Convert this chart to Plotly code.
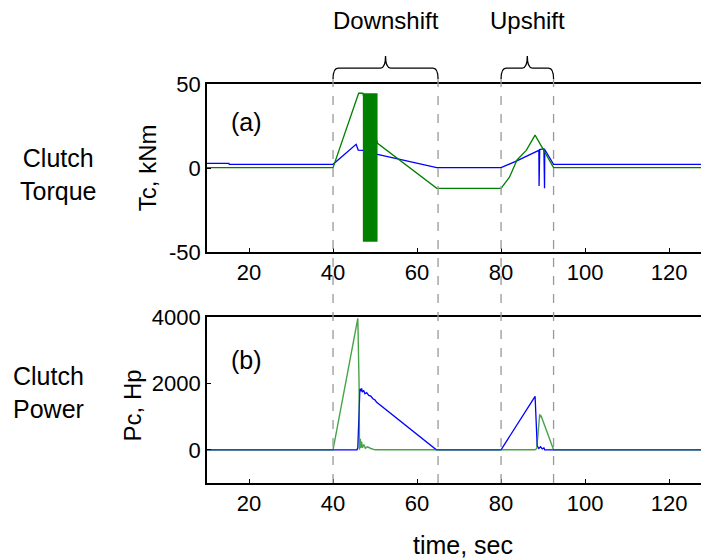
"""Clutch torque / clutch power during a downshift and an upshift."""

import plotly.graph_objects as go
from plotly.subplots import make_subplots

# --- shift windows (sec) ---
shift_names = ["Downshift", "Upshift"]
shift_start = [40, 80]
shift_end = [65, 92.5]

# --- (a) clutch torque, kNm ---
tc_blue_t = [10, 15.2, 15.3, 40, 45.5, 46.0, 47.1, 50.6, 64.7, 80, 84, 89.0,
             89.05, 89.1, 89.15, 89.2, 90.2, 90.25, 90.3, 90.35, 90.4, 92.5, 130]
tc_blue = [2.8, 2.8, 2.2, 2.2, 14.1, 10.7, 10.5, 8.1, 0.2, 0.2, 4.5, 10.5,
           -10.7, 11.0, -10.7, 11.0, 11.5, -12.1, 11.5, -12.1, 11.0, 2.2, 2.2]

tc_green_t = [10, 40, 46.1, 47.1, 50.6, 64.7, 80, 82, 83.8, 86, 88.1, 92.5, 130]
tc_green = [0.2, 0.2, 44.5, 44.5, 14.7, -12.1, -12.1, -5.5, 4.8, 10.5, 19.6, 0.2, 0.2]

# dense oscillation band of the green torque signal
osc_t = [47.1, 50.6]
osc_lo = -43.9
osc_hi = 44.5

# --- (b) clutch power, Hp ---
pc_blue_t = [10, 45.7, 45.9, 46.4, 46.6, 46.8, 47.0, 47.3, 47.6, 48.0, 48.5, 49.0,
             49.5, 50.0, 50.4, 64.6, 80, 88.1, 88.6, 89.0, 89.4, 89.8, 90.2, 90.4, 130]
pc_blue = [0, 0, 60, 1840, 1760, 1850, 1740, 1790, 1690, 1720, 1640, 1620,
           1540, 1500, 1430, 0, 0, 1610, 120, 40, 90, 30, 60, 0, 0]

pc_green_t = [10, 40, 45.9, 46.2, 46.3, 46.5, 46.6, 46.8, 47.0, 47.3, 47.7, 48.2,
              49.0, 50.0, 88.1, 88.5, 89.2, 89.4, 89.5, 92.5, 130]
pc_green = [0, 0, 3960, 2000, 0, 330, 60, 250, 60, 160, 50, 90,
            40, 0, 0, 40, 1070, 980, 1030, 0, 0]

BLUE = "#0000ff"
GREEN = "#008000"
FONT = "Liberation Sans, Arial, sans-serif"

fig = make_subplots(rows=2, cols=1)

fig.add_trace(go.Scatter(x=tc_blue_t, y=tc_blue, mode="lines",
                         line=dict(color=BLUE, width=1.3)), row=1, col=1)
fig.add_trace(go.Scatter(x=tc_green_t, y=tc_green, mode="lines",
                         line=dict(color=GREEN, width=1.3)), row=1, col=1)
fig.add_trace(go.Scatter(
    x=[osc_t[0], osc_t[1], osc_t[1], osc_t[0], osc_t[0]],
    y=[osc_lo, osc_lo, osc_hi, osc_hi, osc_lo],
    mode="lines", fill="toself", fillcolor=GREEN,
    line=dict(color=GREEN, width=0)), row=1, col=1)

fig.add_trace(go.Scatter(x=pc_blue_t, y=pc_blue, mode="lines",
                         line=dict(color=BLUE, width=1.3)), row=2, col=1)
fig.add_trace(go.Scatter(x=pc_green_t, y=pc_green, mode="lines",
                         line=dict(color="rgba(0,128,0,0.72)", width=1.4)), row=2, col=1)

# --- dashed shift markers and braces ---
y_end, y_mid, y_tip = 1.0125, 1.040, 1.070
r = 1.2
for name, a, b in zip(shift_names, shift_start, shift_end):
    for xv in (a, b):
        fig.add_shape(type="line", xref="x", yref="paper", x0=xv, x1=xv, y0=0, y1=y_end,
                      line=dict(color="#999999", width=1.3, dash="dash"))
    m = (a + b) / 2
    path = (f"M {a},{y_end} Q {a},{y_mid} {a + r},{y_mid} L {m - r},{y_mid} "
            f"Q {m},{y_mid} {m},{y_tip} Q {m},{y_mid} {m + r},{y_mid} "
            f"L {b - r},{y_mid} Q {b},{y_mid} {b},{y_end}")
    fig.add_shape(type="path", xref="x", yref="paper", path=path,
                  line=dict(color="black", width=1.3))
    fig.add_annotation(text=name, x=m, y=1.160, xref="x", yref="paper",
                       showarrow=False, font=dict(size=24), xanchor="center", yanchor="middle")

labels = [
    ("Clutch<br>Torque", -0.297, 0.774, 0, 25),
    ("Clutch<br>Power", -0.315, 0.226, 0, 25),
    ("Tc, kNm", -0.1195, 0.789, -90, 24),
    ("Pc, Hp", -0.149, 0.195, -90, 24),
    ("time, sec", 0.51, -0.155, 0, 25),
    ("(a)", 0.078, 0.905, 0, 25),
    ("(b)", 0.078, 0.308, 0, 25),
]
for txt, x, y, ang, size in labels:
    fig.add_annotation(text=txt, x=x, y=y, xref="paper", yref="paper", showarrow=False,
                       textangle=ang, font=dict(size=size), xanchor="center", yanchor="middle")

axis_style = dict(showline=True, linecolor="black", linewidth=1.6, ticks="inside",
                  ticklen=4, tickwidth=1, tickcolor="black", showgrid=False,
                  zeroline=False, automargin=False, tickfont=dict(size=22, color="black"))

fig.update_xaxes(range=[10, 129.5], tickvals=[20, 40, 60, 80, 100, 120],
                 mirror=True, **axis_style)
fig.update_yaxes(mirror=False, **axis_style)

# page body adds an 8px offset, so the figure is 8px smaller than the window
fig.update_layout(
    width=701, height=552,
    margin=dict(l=199, r=0, t=76, b=77),
    plot_bgcolor="white", paper_bgcolor="white",
    showlegend=False,
    font=dict(family=FONT, color="black"),
    xaxis=dict(domain=[0, 1], anchor="y"),
    xaxis2=dict(domain=[0, 1], anchor="y2"),
    yaxis=dict(domain=[0.5789, 1], range=[-50, 50], tickvals=[-50, 0, 50],
               ticktext=["-50", "0", "50"]),
    yaxis2=dict(domain=[0, 0.416], range=[-1000, 4000], tickvals=[0, 2000, 4000]),
)

fig.write_html("out.html")
